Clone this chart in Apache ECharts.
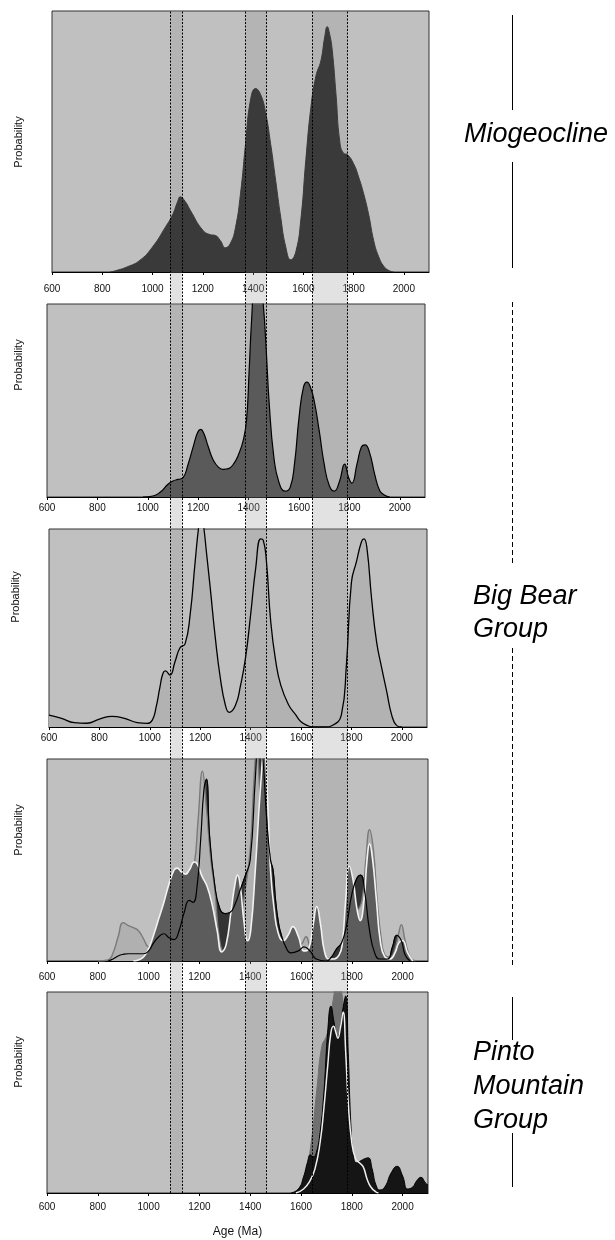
<!DOCTYPE html>
<html><head><meta charset="utf-8">
<script src="https://cdn.jsdelivr.net/npm/echarts@6/dist/echarts.min.js"></script>
<style>html,body{margin:0;padding:0;background:#fff}#c{width:615px;height:1240px}</style>
</head><body><div id="c"></div><script>
// ---- axis ----
const ageMin = 600, ageMax = 2100, ageStep = 200;
const axisTitle = 'Age (Ma)';
const yTitle = 'Probability';
// ---- highlighted age bands (Ma) ----
const bandStart = [1085, 1381, 1645];
const bandEnd   = [1131, 1464, 1784];
// ---- group labels ----
const groupMio = ['Miogeocline'];
const groupBigBear = ['Big Bear', 'Group'];
const groupPinto = ['Pinto', 'Mountain', 'Group'];

// ---- Panel 1: Miogeocline  [age, relative probability] ----
const mio = [[830,0],[850,0.004],[900,0.02],[950,0.045],[1000,0.096],[1050,0.17],[1080,0.22],[1100,0.27],[1110,0.288],[1130,0.27],[1150,0.237],[1200,0.16],[1230,0.143],[1250,0.14],[1270,0.12],[1290,0.093],[1310,0.11],[1330,0.17],[1350,0.30],[1370,0.49],[1390,0.66],[1410,0.703],[1430,0.68],[1450,0.61],[1470,0.49],[1490,0.35],[1510,0.21],[1530,0.096],[1550,0.047],[1570,0.077],[1590,0.20],[1610,0.43],[1630,0.63],[1650,0.75],[1670,0.81],[1685,0.9],[1695,0.94],[1705,0.91],[1715,0.85],[1730,0.68],[1745,0.5],[1760,0.455],[1775,0.45],[1800,0.415],[1820,0.364],[1840,0.30],[1860,0.22],[1880,0.12],[1900,0.058],[1920,0.022],[1940,0.006],[1960,0]];

// ---- Panel 2: Big Bear sample 1 ----
const bb1 = [[980,0],[1020,0.005],[1050,0.026],[1080,0.066],[1100,0.083],[1120,0.091],[1140,0.1],[1160,0.17],[1180,0.26],[1198,0.335],[1210,0.35],[1222,0.33],[1240,0.26],[1260,0.19],[1280,0.155],[1300,0.143],[1320,0.147],[1340,0.17],[1360,0.22],[1380,0.3],[1392,0.4],[1402,0.65],[1412,0.92],[1425,1.15],[1440,1.2],[1458,1.0],[1470,0.76],[1482,0.48],[1500,0.21],[1520,0.078],[1545,0.03],[1565,0.05],[1582,0.17],[1600,0.41],[1618,0.57],[1632,0.595],[1645,0.57],[1660,0.5],[1680,0.345],[1700,0.17],[1720,0.06],[1740,0.03],[1760,0.078],[1781,0.17],[1797,0.1],[1810,0.072],[1830,0.17],[1848,0.26],[1862,0.27],[1880,0.23],[1900,0.12],[1920,0.034],[1940,0.009],[1960,0]];

// ---- Panel 3: Big Bear sample 2 ----
const bb2 = [[600,0.06],[650,0.044],[700,0.022],[750,0.019],[800,0.04],[850,0.054],[900,0.044],[950,0.022],[990,0.018],[1010,0.035],[1025,0.1],[1040,0.2],[1052,0.27],[1062,0.283],[1080,0.262],[1100,0.33],[1120,0.4],[1140,0.42],[1160,0.566],[1180,0.835],[1195,1.02],[1205,1.08],[1215,1.0],[1225,0.88],[1240,0.7],[1260,0.45],[1280,0.246],[1300,0.11],[1315,0.074],[1340,0.11],[1360,0.21],[1380,0.35],[1400,0.566],[1420,0.8],[1440,0.95],[1450,0.944],[1462,0.85],[1480,0.53],[1500,0.33],[1520,0.21],[1550,0.114],[1580,0.06],[1600,0.027],[1630,0.005],[1650,0],[1700,0],[1720,0.005],[1760,0.06],[1780,0.31],[1800,0.73],[1820,0.835],[1840,0.936],[1850,0.95],[1862,0.9],[1880,0.65],[1900,0.43],[1920,0.3],[1940,0.18],[1960,0.06],[1980,0.007],[2000,0]];

// ---- Panel 4: Big Bear composite (three samples) ----
const bb3Gray = [[800,0],[840,0.005],[860,0.04],[880,0.12],[900,0.19],[920,0.175],[940,0.165],[960,0.15],[980,0.11],[1000,0.07],[1040,0.15],[1080,0.3],[1110,0.38],[1140,0.36],[1160,0.4],[1180,0.48],[1195,0.7],[1212,0.94],[1228,0.75],[1245,0.5],[1260,0.36],[1280,0.1],[1300,0.04],[1330,0.1],[1360,0.2],[1380,0.35],[1400,0.55],[1415,0.9],[1425,1.05],[1440,0.8],[1460,0.5],[1480,0.25],[1500,0.12],[1520,0.06],[1560,0.05],[1600,0.08],[1620,0.12],[1640,0.06],[1680,0.03],[1720,0.01],[1760,0.03],[1780,0.2],[1795,0.45],[1820,0.25],[1840,0.3],[1855,0.5],[1870,0.65],[1885,0.55],[1900,0.3],[1915,0.12],[1930,0.03],[1950,0.02],[1970,0.06],[1985,0.14],[1995,0.18],[2010,0.1],[2030,0.02],[2050,0]];
const bb3Black = [[840,0],[860,0.01],[880,0.025],[900,0.033],[920,0.036],[980,0.036],[1000,0.05],[1020,0.09],[1040,0.12],[1060,0.135],[1080,0.115],[1100,0.106],[1120,0.15],[1140,0.24],[1160,0.3],[1175,0.29],[1190,0.36],[1205,0.6],[1218,0.85],[1228,0.9],[1240,0.62],[1260,0.38],[1280,0.26],[1300,0.235],[1320,0.24],[1340,0.28],[1360,0.35],[1380,0.42],[1400,0.5],[1420,0.9],[1435,1.15],[1450,1.0],[1465,0.7],[1480,0.5],[1490,0.45],[1500,0.3],[1510,0.2],[1520,0.14],[1540,0.07],[1560,0.04],[1590,0.05],[1612,0.07],[1635,0.05],[1660,0.01],[1700,0],[1720,0.02],[1740,0.06],[1760,0.09],[1780,0.18],[1800,0.33],[1820,0.41],[1835,0.425],[1850,0.35],[1870,0.15],[1890,0.04],[1910,0.01],[1940,0.01],[1960,0.07],[1977,0.127],[1995,0.1],[2010,0.03],[2030,0]];
const bb3White = [[940,0],[960,0.005],[980,0.02],[1000,0.06],[1020,0.13],[1040,0.21],[1060,0.29],[1080,0.38],[1100,0.45],[1112,0.46],[1130,0.44],[1145,0.43],[1160,0.45],[1180,0.49],[1192,0.48],[1210,0.42],[1230,0.37],[1250,0.28],[1270,0.15],[1288,0.045],[1305,0.08],[1325,0.25],[1340,0.38],[1350,0.425],[1362,0.36],[1375,0.2],[1390,0.1],[1402,0.15],[1420,0.45],[1440,0.85],[1455,1.05],[1470,0.75],[1480,0.45],[1495,0.25],[1510,0.14],[1530,0.1],[1550,0.13],[1568,0.17],[1590,0.12],[1612,0.05],[1630,0.06],[1648,0.18],[1662,0.27],[1677,0.18],[1692,0.05],[1710,0.01],[1730,0.01],[1750,0.03],[1762,0.08],[1776,0.3],[1790,0.47],[1805,0.4],[1820,0.26],[1833,0.2],[1848,0.3],[1860,0.5],[1870,0.58],[1882,0.5],[1897,0.3],[1912,0.1],[1930,0.02],[1950,0.01],[1970,0.04],[1985,0.09],[2000,0.1],[2020,0.04],[2040,0]];

// ---- Panel 5: Pinto Mountain Group (three samples) ----
const pintoGray = [[1570,0],[1595,0.03],[1616,0.08],[1640,0.25],[1662,0.51],[1682,0.73],[1700,0.78],[1714,0.85],[1728,0.97],[1745,1.08],[1760,1.0],[1772,0.85],[1785,0.5],[1800,0.2],[1820,0.05],[1840,0]];
const pintoBlack = [[1560,0],[1590,0.02],[1610,0.08],[1625,0.15],[1637,0.19],[1648,0.18],[1660,0.2],[1675,0.3],[1690,0.5],[1705,0.8],[1718,0.93],[1730,0.85],[1742,0.78],[1752,0.8],[1763,0.9],[1776,0.98],[1786,0.7],[1796,0.35],[1806,0.19],[1818,0.15],[1835,0.16],[1850,0.17],[1865,0.175],[1880,0.12],[1895,0.04],[1910,0.015],[1930,0.03],[1955,0.1],[1978,0.133],[2000,0.085],[2020,0.02],[2040,0.03],[2055,0.06],[2072,0.078],[2090,0.05],[2100,0.04]];
const pintoWhite = [[1580,0],[1610,0.02],[1635,0.06],[1655,0.12],[1675,0.25],[1690,0.42],[1705,0.63],[1718,0.8],[1728,0.83],[1737,0.8],[1745,0.77],[1755,0.82],[1766,0.9],[1776,0.7],[1786,0.45],[1800,0.25],[1815,0.17],[1830,0.15],[1845,0.13],[1860,0.07],[1875,0.03],[1895,0.005],[1905,0]];

// ---- layout ----
const FONT = '"Liberation Sans", Arial, Helvetica, sans-serif';
const panels = [
  {left:52, width:377, top:11,  height:261, margin:12, yLab:[19,142]},
  {left:47, width:378, top:304, height:193, margin:6,  yLab:[19,365]},
  {left:49, width:378, top:529, height:198, margin:6,  yLab:[16,597]},
  {left:47, width:381, top:759, height:202, margin:11, yLab:[19,830]},
  {left:47, width:381, top:992, height:201, margin:9,  yLab:[19,1062]}
];
const BG = '#c0c0c0';

const grids = panels.map(p => ({left:p.left, top:p.top, width:p.width, height:p.height,
  show:true, backgroundColor:BG, borderColor:'#333', borderWidth:1}));
grids.push({left:47, top:11, width:381, height:1182, show:false});

const xAxes = panels.map((p, i) => ({
  type:'value', gridIndex:i, min:ageMin, max:ageMax, interval:ageStep,
  axisLine:{show:true, lineStyle:{color:'#000', width:1}},
  axisTick:{show:true, length:3, lineStyle:{color:'#000'}},
  axisLabel:{fontSize:10, color:'#111', margin:p.margin, fontFamily:FONT, showMaxLabel:false,
    formatter: v => String(v)},
  splitLine:{show:false},
  name: i === 4 ? axisTitle : '', nameLocation:'middle', nameGap:33,
  nameTextStyle:{fontSize:12, color:'#111', fontFamily:FONT}
}));
xAxes.push({type:'value', gridIndex:5, min:ageMin, max:ageMax, show:false});
const yAxes = panels.map((p, i) => ({type:'value', gridIndex:i, min:0, max:1, show:false}));
yAxes.push({type:'value', gridIndex:5, min:0, max:1, show:false});

function curve(gi, data, fill, line, lw, z) {
  const s = {type:'line', xAxisIndex:gi, yAxisIndex:gi, data:data, smooth:0.5,
    symbol:'none', silent:true, z:z, lineStyle:{color:line, width:lw}};
  if (fill) s.areaStyle = {color:fill, opacity:1};
  return s;
}

const series = [
  curve(0, mio, '#3a3a3a', '#3a3a3a', 1, 2),
  curve(1, bb1, '#5a5a5a', '#000', 1.2, 2),
  curve(2, bb2, '#b2b2b2', '#000', 1.3, 2),
  curve(3, bb3Black, '#333333', '#222', 1, 2),
  curve(3, bb3Gray, '#b0b0b0', '#7a7a7a', 1.4, 3),
  curve(3, bb3White, '#5c5c5c', '#f2f2f2', 1.6, 4),
  curve(3, bb3Black, null, '#000', 1.2, 5),
  curve(4, pintoGray, '#707070', '#707070', 1, 2),
  curve(4, pintoBlack, '#151515', '#000', 1, 3),
  curve(4, pintoWhite, null, '#eeeeee', 1.5, 4),
  {
    type:'line', xAxisIndex:5, yAxisIndex:5, data:[[ageMin,0]], symbol:'none', silent:true, z:20,
    lineStyle:{opacity:0},
    markArea:{silent:true, itemStyle:{color:'rgba(150,150,150,0.28)'},
      data: bandStart.map((s, i) => [{xAxis:s}, {xAxis:bandEnd[i]}])},
    markLine:{silent:true, symbol:['none','none'], label:{show:false},
      lineStyle:{color:'#000', type:[2,1.5], width:1},
      data: bandStart.concat(bandEnd).map(v => ({xAxis:v}))}
  }
];

const graphic = [];
panels.forEach(p => graphic.push({type:'text', x:p.yLab[0], y:p.yLab[1], rotation:Math.PI/2,
  style:{text:yTitle, font:'11px ' + FONT, fill:'#111', align:'center', verticalAlign:'middle'}}));
const LX = 512.5;
[[15,110],[162,268],[997,1040],[1133,1187]].forEach(s => graphic.push({type:'line',
  shape:{x1:LX, y1:s[0], x2:LX, y2:s[1]}, style:{stroke:'#000', lineWidth:1}}));
[[302,565],[648,965]].forEach(s => graphic.push({type:'line',
  shape:{x1:LX, y1:s[0], x2:LX, y2:s[1]}, style:{stroke:'#000', lineWidth:1, lineDash:[5,3]}}));
const gFont = 'italic 27px ' + FONT;
function addLabel(lines, x, y0, step) {
  lines.forEach((t, i) => graphic.push({type:'text', x:x, y:y0 + i*step,
    style:{text:t, font:gFont, fill:'#000', align:'left', verticalAlign:'middle'}}));
}
addLabel(groupMio, 464, 134, 0);
addLabel(groupBigBear, 473, 596, 33);
addLabel(groupPinto, 473, 1052, 34);

const chart = echarts.init(document.getElementById('c'), null, {renderer:'canvas'});
chart.setOption({animation:false, grid:grids, xAxis:xAxes, yAxis:yAxes, series:series, graphic:graphic});
</script></body></html>
